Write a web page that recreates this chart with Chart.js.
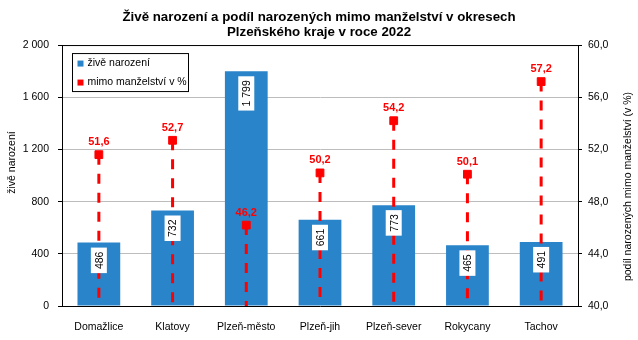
<!DOCTYPE html>
<html>
<head>
<meta charset="utf-8">
<script src="https://cdn.jsdelivr.net/npm/chart.js@4"></script>
<style>
  body { margin: 0; background: #fff; }
</style>
</head>
<body>
<canvas id="chart" width="638" height="340"></canvas>
<script>
const districts = ['Domažlice', 'Klatovy', 'Plzeň-město', 'Plzeň-jih', 'Plzeň-sever', 'Rokycany', 'Tachov'];
const births = [486, 732, 1799, 661, 773, 465, 491];
const outOfWedlock = [51.6, 52.7, 46.2, 50.2, 54.2, 50.1, 57.2];
const leftTitle = 'živě narození';
const rightTitle = 'podíl narozených mimo manželství (v %)';

const BLUE = '#2a84c9';
const RED = '#ff0000';
const FONT = "'Liberation Sans', Arial, sans-serif";

const fmtThousands = v => String(v).replace(/\B(?=(\d{3})+(?!\d))/g, ' ');
const fmtDecimal = v => v.toFixed(1).replace('.', ',');

// dashed drop lines, white boxes with bar values, point labels, legend, axis titles
const overlay = {
    id: 'overlay',
    afterDatasetDraw(chart, args) {
        if (args.index !== 0) return;
        const ctx = chart.ctx;
        const area = chart.chartArea;
        const points = chart.getDatasetMeta(1).data;

        ctx.save();
        ctx.strokeStyle = RED;
        ctx.lineWidth = 3;
        ctx.setLineDash([10, 9]);
        points.forEach(p => {
            ctx.beginPath();
            ctx.moveTo(p.x, p.y);
            ctx.lineTo(p.x, area.bottom);
            ctx.stroke();
        });
        ctx.restore();

        ctx.save();
        ctx.font = '10.5px ' + FONT;
        ctx.textAlign = 'center';
        ctx.textBaseline = 'middle';
        args.meta.data.forEach((bar, i) => {
            const text = fmtThousands(births[i]);
            const w = ctx.measureText(text).width + 8;
            const h = 16;
            const cy = bar.y + 5 + w / 2;
            ctx.fillStyle = '#fff';
            ctx.fillRect(bar.x - h / 2, cy - w / 2, h, w);
            ctx.save();
            ctx.translate(bar.x, cy);
            ctx.rotate(-Math.PI / 2);
            ctx.fillStyle = '#000';
            ctx.fillText(text, 0, 1);
            ctx.restore();
        });
        ctx.restore();
    },
    afterDatasetsDraw(chart) {
        const ctx = chart.ctx;
        const area = chart.chartArea;
        const points = chart.getDatasetMeta(1).data;

        ctx.save();
        ctx.font = 'bold 11px ' + FONT;
        ctx.fillStyle = RED;
        ctx.textAlign = 'center';
        ctx.textBaseline = 'middle';
        points.forEach((p, i) => ctx.fillText(fmtDecimal(outOfWedlock[i]), p.x, p.y - 12.5));

        // top border of the plot
        ctx.strokeStyle = '#000';
        ctx.lineWidth = 1;
        ctx.beginPath();
        ctx.moveTo(area.left, area.top + 0.5);
        ctx.lineTo(area.right, area.top + 0.5);
        ctx.stroke();

        // legend
        const lx = area.left + 10.5, ly = area.top + 8.5;
        ctx.strokeRect(lx, ly, 116, 38);
        ctx.font = '10.5px ' + FONT;
        ctx.textAlign = 'left';
        chart.data.datasets.forEach((ds, i) => {
            const y = ly + 10 + i * 19;
            ctx.fillStyle = ds.backgroundColor;
            ctx.fillRect(lx + 5, y - 3, 6, 6);
            ctx.fillStyle = '#000';
            ctx.fillText(ds.label, lx + 15, y);
        });

        // axis titles
        ctx.textAlign = 'center';
        ctx.fillStyle = '#000';
        const midY = (area.top + area.bottom) / 2;
        [[leftTitle, 12, midY - 13], [rightTitle, 628, midY + 11]].forEach(([t, x, y]) => {
            ctx.save();
            ctx.translate(x, y);
            ctx.rotate(-Math.PI / 2);
            ctx.fillText(t, 0, 0);
            ctx.restore();
        });
        ctx.restore();
    }
};

new Chart(document.getElementById('chart'), {
    type: 'bar',
    data: {
        labels: districts,
        datasets: [
            {
                label: 'živě narození',
                data: births,
                backgroundColor: BLUE,
                yAxisID: 'y',
                categoryPercentage: 1,
                barPercentage: 0.58,
                order: 2
            },
            {
                type: 'line',
                label: 'mimo manželství v %',
                data: outOfWedlock,
                yAxisID: 'y1',
                showLine: false,
                pointStyle: 'rect',
                pointRadius: 5.5,
                pointBorderWidth: 1,
                borderColor: RED,
                backgroundColor: RED,
                order: 1
            }
        ]
    },
    options: {
        responsive: false,
        animation: false,
        layout: { padding: 0 },
        plugins: {
            legend: { display: false },
            tooltip: { enabled: false },
            title: {
                display: true,
                text: ['Živě narození a podíl narozených mimo manželství v okresech', 'Plzeňského kraje v roce 2022'],
                color: '#000',
                font: { family: FONT, size: 13.3, weight: 'bold', lineHeight: 1.13 },
                padding: { top: 9.5, bottom: 5.5 }
            }
        },
        scales: {
            x: {
                grid: { display: false },
                border: { color: '#000' },
                ticks: { color: '#000', padding: 7, font: { family: FONT, size: 10.5 } },
                afterFit: s => { s.height = 34; }
            },
            y: {
                position: 'left',
                min: 0,
                max: 2000,
                grid: { color: '#bdbdbd', tickColor: '#000', tickLength: 4 },
                border: { color: '#000' },
                ticks: {
                    stepSize: 400,
                    color: '#000',
                    padding: 9,
                    font: { family: FONT, size: 10.5 },
                    callback: v => fmtThousands(v)
                },
                afterFit: s => { s.width = 62; }
            },
            y1: {
                position: 'right',
                min: 40,
                max: 60,
                grid: { drawOnChartArea: false, tickColor: '#000', tickLength: 4 },
                border: { color: '#000' },
                ticks: {
                    stepSize: 4,
                    color: '#000',
                    padding: 6,
                    font: { family: FONT, size: 10.5 },
                    callback: v => fmtDecimal(v)
                },
                afterFit: s => { s.width = 60; }
            }
        }
    },
    plugins: [overlay]
});
</script>
</body>
</html>
